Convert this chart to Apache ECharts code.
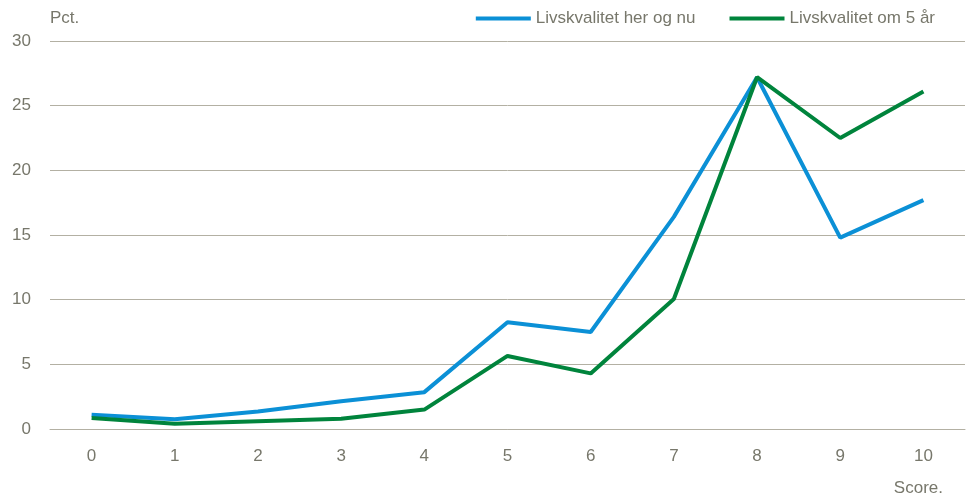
<!DOCTYPE html>
<html>
<head>
<meta charset="utf-8">
<script src="https://cdn.jsdelivr.net/npm/echarts@6/dist/echarts.min.js"></script>
<style>
  html, body { margin: 0; padding: 0; background: #fff; }
  #main { width: 966px; height: 495px; }
</style>
</head>
<body>
<div id="main"></div>
<script>
var scores = ['0', '1', '2', '3', '4', '5', '6', '7', '8', '9', '10'];
var herOgNu = [1.1, 0.75, 1.35, 2.15, 2.85, 8.25, 7.5, 16.4, 27.2, 14.8, 17.7];
var om5Aar = [0.85, 0.4, 0.6, 0.8, 1.5, 5.65, 4.3, 10.05, 27.2, 22.5, 26.1];

var textColor = '#77776b';
var lineColor = '#b3b0a3';

var chartDom = document.getElementById('main');
var myChart = echarts.init(chartDom);
var option;

option = {
  animation: false,
  textStyle: { fontFamily: 'Liberation Sans', color: textColor },
  legend: {
    top: 5,
    right: 26,
    itemWidth: 55,
    itemHeight: 4,
    itemGap: 34,
    icon: 'rect',
    textStyle: { fontSize: 17, color: textColor },
    data: ['Livskvalitet her og nu', 'Livskvalitet om 5 år']
  },
  grid: {
    left: 50,
    right: 1,
    top: 41,
    bottom: 66,
    containLabel: false,
    outerBoundsMode: 'none'
  },
  xAxis: {
    type: 'category',
    boundaryGap: true,
    data: scores,
    name: 'Score.',
    nameLocation: 'end',
    nameGap: -22,
    nameTextStyle: { fontSize: 17, color: textColor, align: 'right', verticalAlign: 'top', padding: [51, 0, 0, 0] },
    axisLine: { show: true, lineStyle: { color: lineColor, width: 1 } },
    axisTick: { show: false },
    axisLabel: { fontSize: 17, color: textColor, margin: 19 }
  },
  yAxis: {
    type: 'value',
    min: 0,
    max: 30,
    interval: 5,
    name: 'Pct.',
    nameLocation: 'end',
    nameGap: 14,
    nameTextStyle: { fontSize: 17, color: textColor, align: 'left' },
    axisLine: { show: false },
    axisTick: { show: false },
    axisLabel: { fontSize: 17, color: textColor, margin: 19 },
    splitLine: { lineStyle: { color: lineColor, width: 1 } }
  },
  series: [
    {
      name: 'Livskvalitet her og nu',
      type: 'line',
      data: herOgNu,
      showSymbol: false,
      symbol: 'none',
      color: '#0b90d6',
      lineStyle: { width: 4, color: '#0b90d6' }
    },
    {
      name: 'Livskvalitet om 5 år',
      type: 'line',
      data: om5Aar,
      showSymbol: false,
      symbol: 'none',
      color: '#00843c',
      lineStyle: { width: 4, color: '#00843c' }
    }
  ]
};

option && myChart.setOption(option);
</script>
</body>
</html>
